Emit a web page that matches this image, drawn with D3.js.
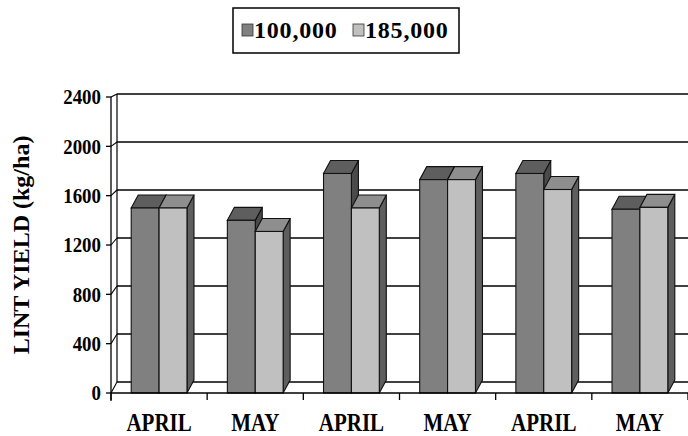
<!DOCTYPE html>
<html>
<head>
<meta charset="utf-8">
<script src="https://cdn.jsdelivr.net/npm/d3@7"></script>
<style>
  html, body { margin: 0; padding: 0; background: #fff; }
  svg { display: block; }
  text { font-family: "Liberation Serif", "DejaVu Serif", serif; font-weight: bold; fill: #000; }
</style>
</head>
<body>
<svg id="chart" width="688" height="436"></svg>
<script>
// Planting month for each group of bars
const categories = ["APRIL", "MAY", "APRIL", "MAY", "APRIL", "MAY"];
// Plant population series (plants/ha)
const seriesNames = ["100,000", "185,000"];
// Lint yield, kg/ha
const yield100k = [1500, 1400, 1780, 1730, 1780, 1490];
const yield185k = [1500, 1310, 1500, 1730, 1650, 1505];
// Value axis ticks
const yTicks = [0, 400, 800, 1200, 1600, 2000, 2400];

const seriesValues = [yield100k, yield185k];
const frontFill = ["#808080", "#c0c0c0"];
const topFill = ["#5e5e5e", "#8e8e8e"];
const sideFill = ["#4a4a4a", "#5e5e5e"];

const svg = d3.select("#chart");

// Oblique 3-D geometry: the floor/wall depth and the depth of each column
const wall = { dx: 6, dy: -11 };
const bar = { dx: 7, dy: -13 };

const yFront = d3.scaleLinear().domain([0, 2400]).range([393, 97]);
const yBack = d3.scaleLinear().domain([0, 2400]).range([382, 94]);

const x = d3.scaleBand()
  .domain(d3.range(categories.length))
  .range([111, 688])
  .paddingInner(0.42)
  .paddingOuter(0.21);
const xGroup = d3.scaleBand()
  .domain(d3.range(categories.length))
  .range([111, 688]);
const xs = d3.scaleBand().domain(d3.range(seriesNames.length)).range([0, x.bandwidth()]);

const axisLeft = 111;
const backLeft = axisLeft + wall.dx;

// Back wall gridlines
svg.append("g").selectAll("line").data(yTicks).join("line")
  .attr("x1", backLeft).attr("x2", 700)
  .attr("y1", d => yBack(d)).attr("y2", d => yBack(d))
  .attr("stroke", "#000").attr("stroke-width", 1.3);

// Left side wall: back edge and diagonal tick connectors
svg.append("line")
  .attr("x1", backLeft).attr("x2", backLeft)
  .attr("y1", yBack(0)).attr("y2", yBack(2400))
  .attr("stroke", "#000").attr("stroke-width", 1.2);
svg.append("g").selectAll("line").data(yTicks).join("line")
  .attr("x1", axisLeft).attr("y1", d => yFront(d))
  .attr("x2", backLeft).attr("y2", d => yBack(d))
  .attr("stroke", "#000").attr("stroke-width", 1.1);

// Columns
const groups = svg.append("g").selectAll("g")
  .data(categories.map((c, i) => i)).join("g");

groups.each(function (i) {
  const g = d3.select(this);
  seriesValues.forEach((vals, s) => {
    const v = vals[i];
    const x0 = x(i) + xs(s);
    const x1 = x0 + xs.bandwidth();
    const yt = yFront(v);
    const yb = yFront(0);
    const pts = a => a.map(p => p.join(",")).join(" ");
    // side face
    g.append("polygon")
      .attr("points", pts([[x1, yt], [x1 + bar.dx, yt + bar.dy], [x1 + bar.dx, yb + bar.dy], [x1, yb]]))
      .attr("fill", sideFill[s]).attr("stroke", "#111").attr("stroke-width", 1.1);
    // top face
    g.append("polygon")
      .attr("points", pts([[x0, yt], [x0 + bar.dx, yt + bar.dy], [x1 + bar.dx, yt + bar.dy], [x1, yt]]))
      .attr("fill", topFill[s]).attr("stroke", "#111").attr("stroke-width", 1.1);
    // front face
    g.append("rect")
      .attr("x", x0).attr("y", yt)
      .attr("width", xs.bandwidth()).attr("height", yb - yt)
      .attr("fill", frontFill[s]).attr("stroke", "#111").attr("stroke-width", 1.1);
  });
});

// Value axis (front-left edge)
svg.append("line")
  .attr("x1", axisLeft).attr("x2", axisLeft)
  .attr("y1", yFront(2400)).attr("y2", yFront(0) + 8)
  .attr("stroke", "#000").attr("stroke-width", 1.3);
svg.append("g").selectAll("line").data(yTicks).join("line")
  .attr("x1", axisLeft - 5).attr("x2", axisLeft)
  .attr("y1", d => yFront(d)).attr("y2", d => yFront(d))
  .attr("stroke", "#000").attr("stroke-width", 1.3);
svg.append("g").selectAll("text").data(yTicks).join("text")
  .attr("transform", d => `translate(${axisLeft - 10},${yFront(d)}) scale(0.9,1)`)
  .attr("text-anchor", "end").attr("dominant-baseline", "central")
  .style("font-size", "21px")
  .text(d => d);

// Category axis (front floor edge)
svg.append("line")
  .attr("x1", axisLeft).attr("x2", 700)
  .attr("y1", yFront(0)).attr("y2", yFront(0))
  .attr("stroke", "#000").attr("stroke-width", 1.3);
const boundaries = d3.range(categories.length + 1).map(i => 111 + i * xGroup.step());
svg.append("g").selectAll("line").data(boundaries).join("line")
  .attr("x1", d => d).attr("x2", d => d)
  .attr("y1", yFront(0)).attr("y2", yFront(0) + 7)
  .attr("stroke", "#000").attr("stroke-width", 1.3);
svg.append("g").selectAll("text").data(categories).join("text")
  .attr("transform", (d, i) => `translate(${x(i) + x.bandwidth() / 2},431) scale(0.84,1)`)
  .attr("text-anchor", "middle")
  .style("font-size", "25px")
  .text(d => d);

// Value axis title
svg.append("text")
  .attr("transform", "translate(29,245) rotate(-90)")
  .attr("text-anchor", "middle")
  .style("font-size", "24px")
  .text("LINT YIELD (kg/ha)");

// Legend
const legend = svg.append("g");
legend.append("rect")
  .attr("x", 233).attr("y", 8).attr("width", 226).attr("height", 45)
  .attr("fill", "#fff").attr("stroke", "#000").attr("stroke-width", 1.5);
const legendX = [242, 353];
seriesNames.forEach((name, s) => {
  legend.append("rect")
    .attr("x", legendX[s]).attr("y", 24).attr("width", 11).attr("height", 12)
    .attr("fill", frontFill[s]).attr("stroke", "#333").attr("stroke-width", 0.8);
  legend.append("text")
    .attr("x", legendX[s] + 12).attr("y", 38)
    .style("font-size", "24px")
    .style("letter-spacing", "0.8px")
    .text(name);
});
</script>
</body>
</html>
